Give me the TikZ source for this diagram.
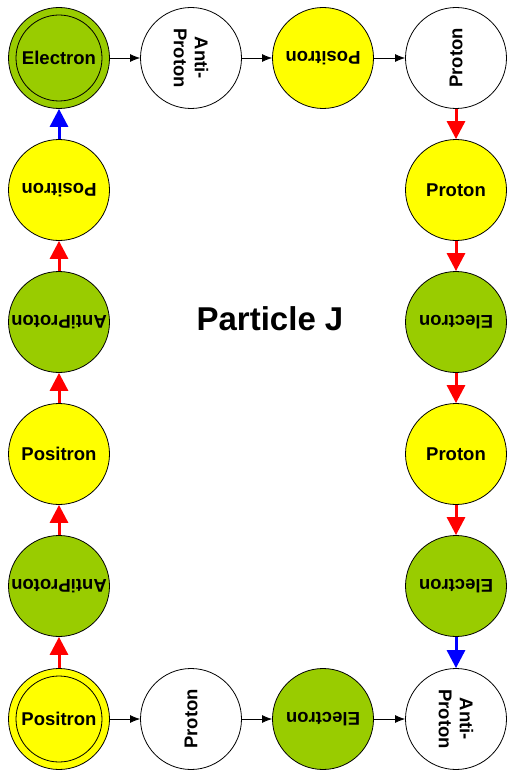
\documentclass[tikz,border=0pt]{standalone}
\usepackage{fontspec}
\setmainfont{Liberation Sans}
\usetikzlibrary{arrows.meta}
\tikzset{>=stealth}
\definecolor{elgreen}{HTML}{99CC00}
\definecolor{poyellow}{HTML}{FFFF00}

\begin{document}
\begin{tikzpicture}[x=1pt, y=-1pt,
    part/.style={circle, draw, line width=0.8pt, minimum size=101pt, inner sep=0pt,
        align=center, font=\fontsize{18.5}{21}\selectfont\bfseries},
    elec/.style={part, fill=elgreen},
    posi/.style={part, fill=poyellow},
    prot/.style={part, fill=white},
    hop/.style={-{Latex[length=10pt,width=8pt]}, line width=0.8pt},
    jump/.style={-{Triangle[length=18pt,width=18pt]}, line width=3pt}]
    \useasboundingbox (0,0) rectangle (509,773);
    % top row
    \node[elec] (t1) at (59,58) {Electron};
    \node[prot, rotate=-90] (t2) at (191,58) {Anti-\\Proton};
    \node[posi, rotate=180] (t3) at (323,58) {Positron};
    \node[prot, rotate=90] (t4) at (456,58) {Proton};
    % right column
    \node[posi] (r1) at (456,190) {Proton};
    \node[elec, rotate=180] (r2) at (456,322) {Electron};
    \node[posi] (r3) at (456,454) {Proton};
    \node[elec, rotate=180] (r4) at (456,586) {Electron};
    % bottom row
    \node[posi] (b1) at (59,719) {Positron};
    \node[prot, rotate=90] (b2) at (191,719) {Proton};
    \node[elec, rotate=180] (b3) at (323,719) {Electron};
    \node[prot, rotate=-90] (b4) at (456,719) {Anti-\\Proton};
    % left column
    \node[elec, rotate=180] (l4) at (59,586) {AntiProton};
    \node[posi] (l3) at (59,454) {Positron};
    \node[elec, rotate=180] (l2) at (59,322) {AntiProton};
    \node[posi, rotate=180] (l1) at (59,190) {Positron};
    \draw[line width=0.8pt] (t1) circle (43) (b1) circle (43);
    \node[font=\fontsize{33}{33}\selectfont\bfseries] (title) at (270,319) {Particle J};
    % links
    \foreach \a/\b in {t1/t2, t2/t3, t3/t4, b1/b2, b2/b3, b3/b4}
        \draw[hop] (\a) -- (\b);
    \foreach \a/\b in {t4/r1, r1/r2, r2/r3, r3/r4, b1/l4, l4/l3, l3/l2, l2/l1}
        \draw[jump, red] (\a) -- (\b);
    \draw[jump, blue] (r4) -- (b4);
    \draw[jump, blue] (l1) -- (t1);
\end{tikzpicture}
\end{document}
